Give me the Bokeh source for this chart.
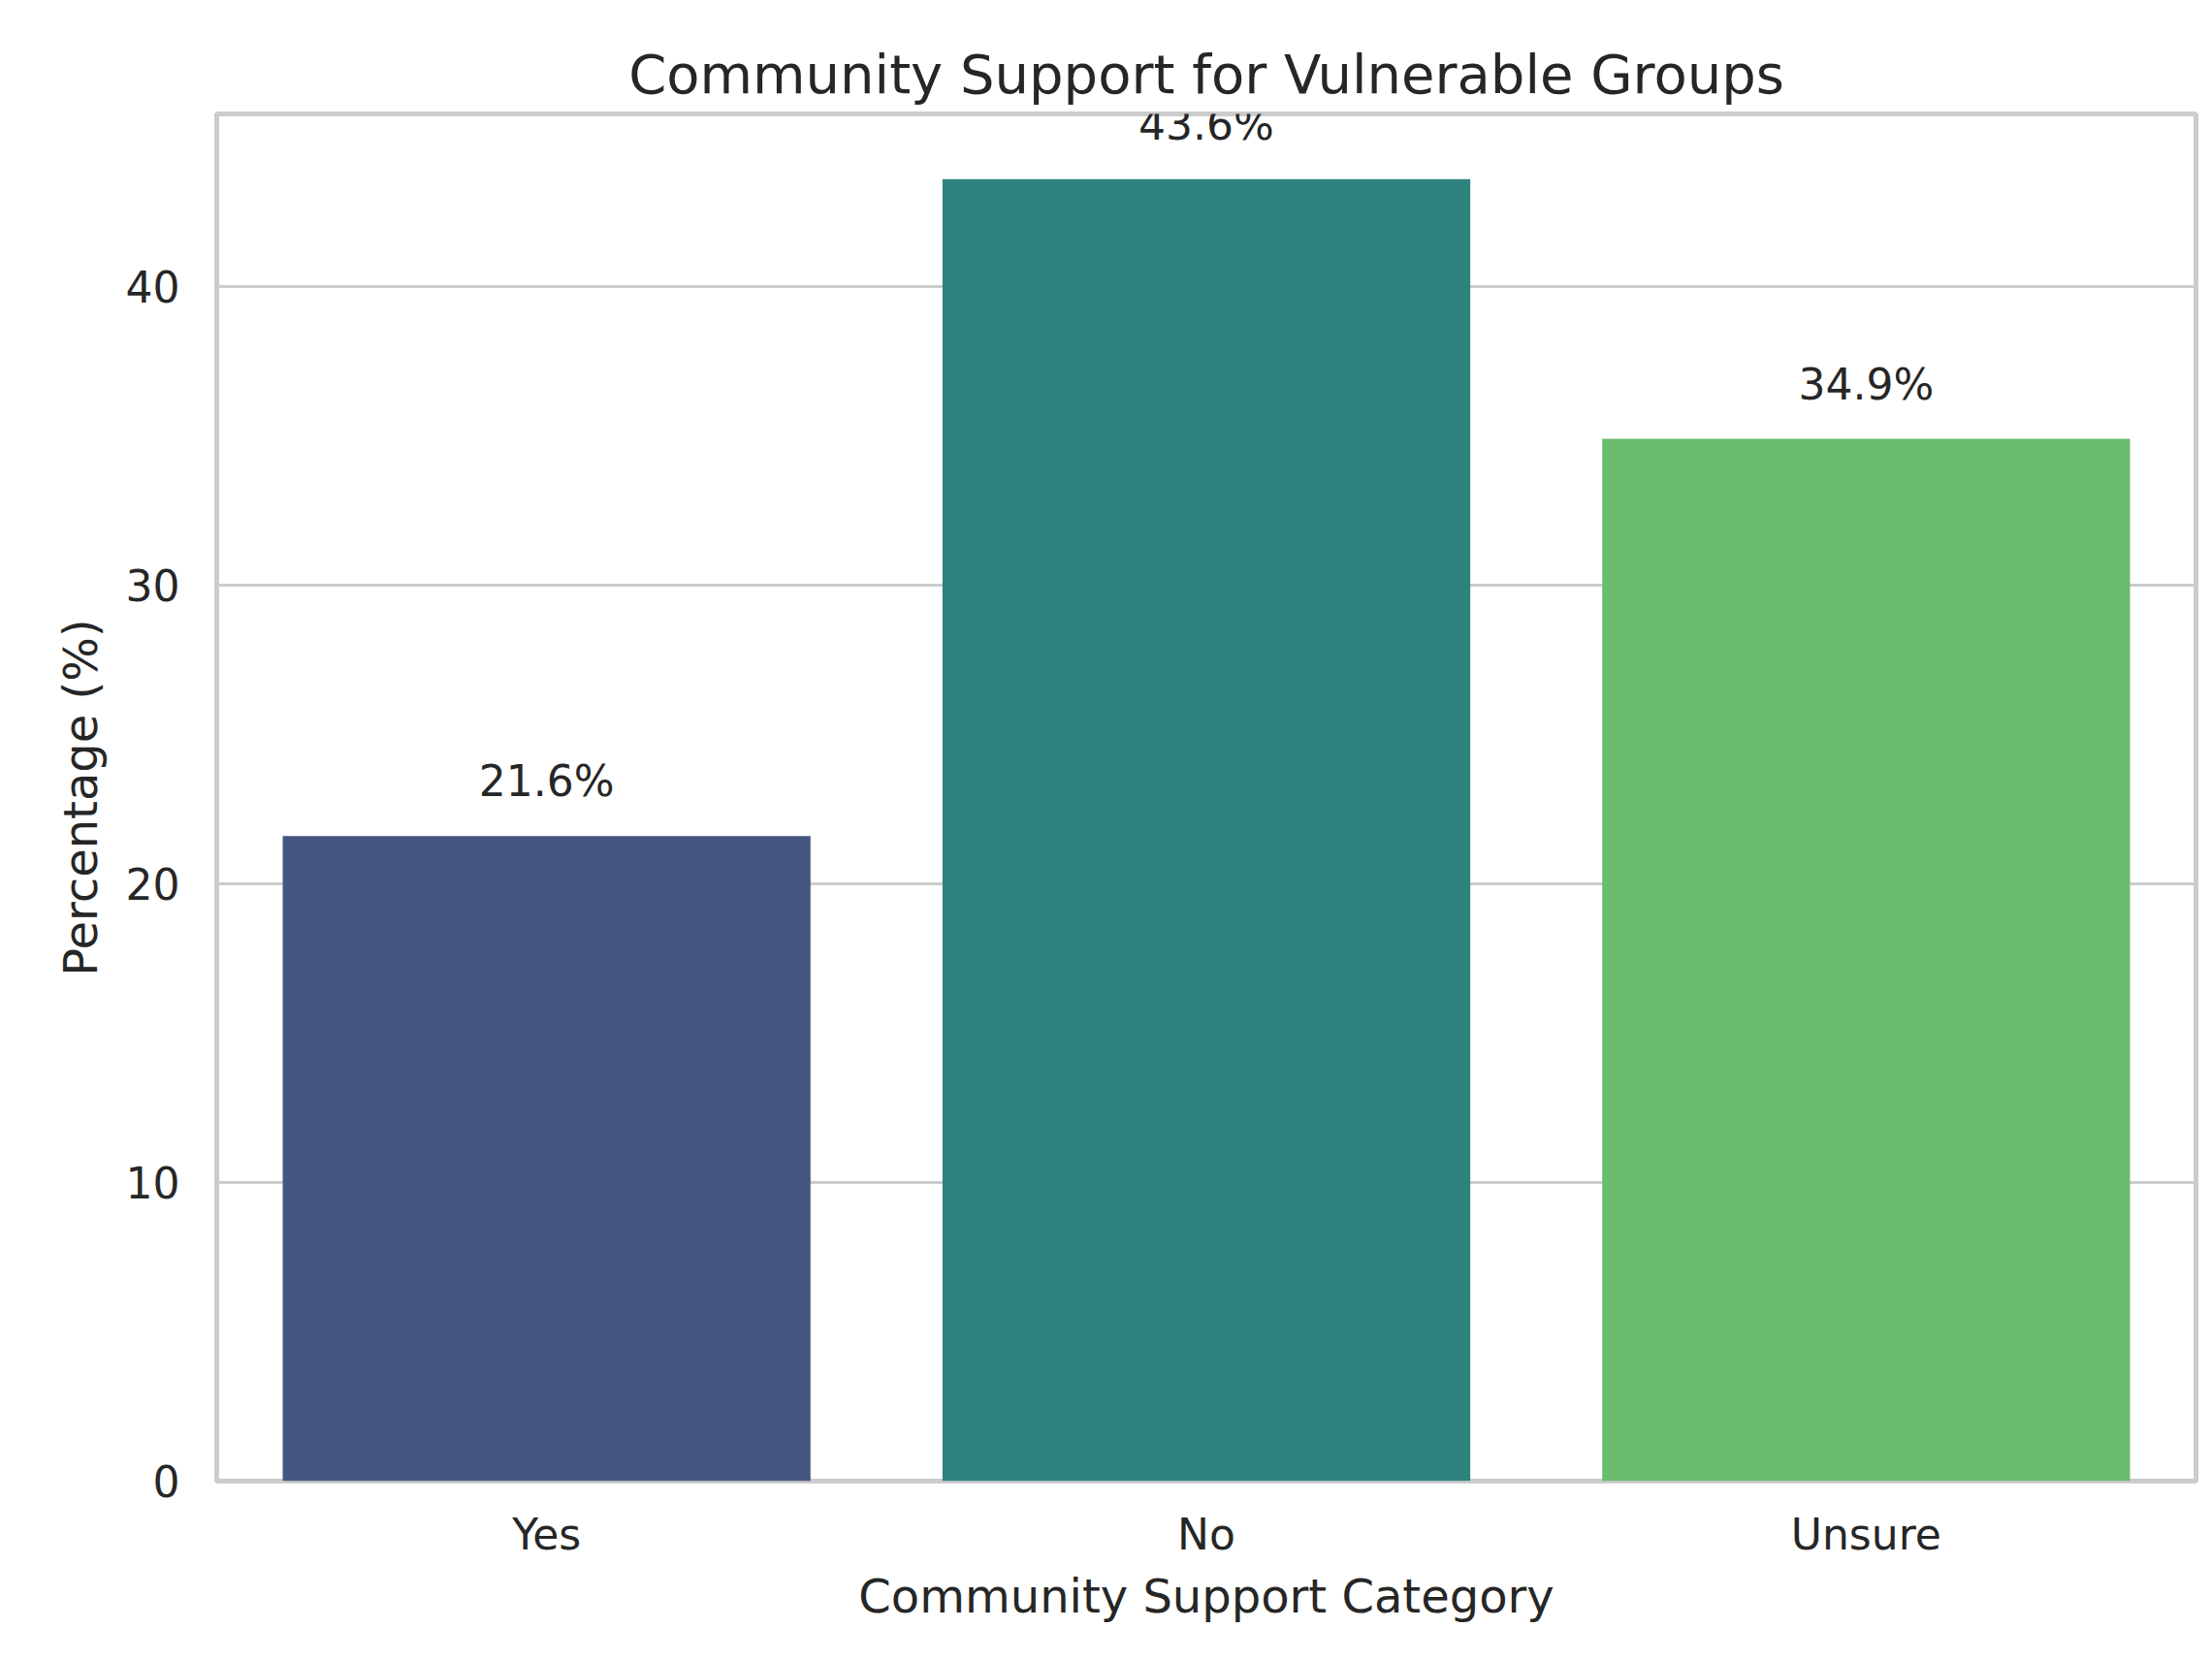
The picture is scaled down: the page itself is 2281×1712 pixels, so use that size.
from bokeh.plotting import figure
from bokeh.models import Range1d, FactorRange, FixedTicker, ColumnDataSource, Title
from bokeh.core.properties import value
from bokeh.embed import file_html
from bokeh.resources import INLINE

categories = ["Yes", "No", "Unsure"]
percentages = [21.6, 43.6, 34.9]
bar_colors = ["#455681", "#2f837f", "#6bbb6e"]
y_ticks = [0, 10, 20, 30, 40]
labels = [f"{v:.1f}%" for v in percentages]

FONT = "DejaVu Sans"
TXT = "#262626"
GRID = "#cccccc"

src = ColumnDataSource(dict(cat=categories, val=percentages, color=bar_colors,
                            lab=labels, ly=[v + 1 for v in percentages]))

p = figure(width=2272, height=1700, output_backend="svg", toolbar_location=None,
           x_range=FactorRange(*categories, range_padding=0),
           y_range=Range1d(0, max(percentages) * 1.05),
           min_border_left=223, min_border_right=8, min_border_top=117, min_border_bottom=173)

p.title = Title(text="Community Support for Vulnerable Groups", align="center",
                text_font=FONT, text_font_size="56px", text_font_style="normal",
                text_color=TXT, standoff=18)

p.vbar(x="cat", top="val", width=0.8, bottom=0, color="color", line_color=None, source=src)
p.text(x="cat", y="ly", text="lab", source=src, text_align="center", text_baseline="bottom",
       text_font=value(FONT), text_font_size="44px", text_color=TXT)

p.background_fill_color = "white"
p.border_fill_color = "white"
p.outline_line_color = GRID
p.outline_line_width = 5

p.xgrid.grid_line_color = None
p.ygrid.grid_line_color = GRID
p.ygrid.grid_line_width = 3
p.yaxis.ticker = FixedTicker(ticks=y_ticks)

for ax in (p.xaxis[0], p.yaxis[0]):
    ax.axis_line_color = None
    ax.major_tick_line_color = None
    ax.minor_tick_line_color = None
    ax.major_tick_in = 0
    ax.major_tick_out = 0
    ax.major_label_text_font = FONT
    ax.major_label_text_font_size = "44px"
    ax.major_label_text_color = TXT
    ax.axis_label_text_font = FONT
    ax.axis_label_text_font_size = "48px"
    ax.axis_label_text_font_style = "normal"
    ax.axis_label_text_color = TXT

p.xaxis.axis_label = "Community Support Category"
p.yaxis.axis_label = "Percentage (%)"
p.xaxis.major_label_standoff = 29
p.xaxis.axis_label_standoff = 7
p.yaxis.major_label_standoff = 38
p.yaxis.axis_label_standoff = 16

open("out.html", "w").write(file_html(p, INLINE))
